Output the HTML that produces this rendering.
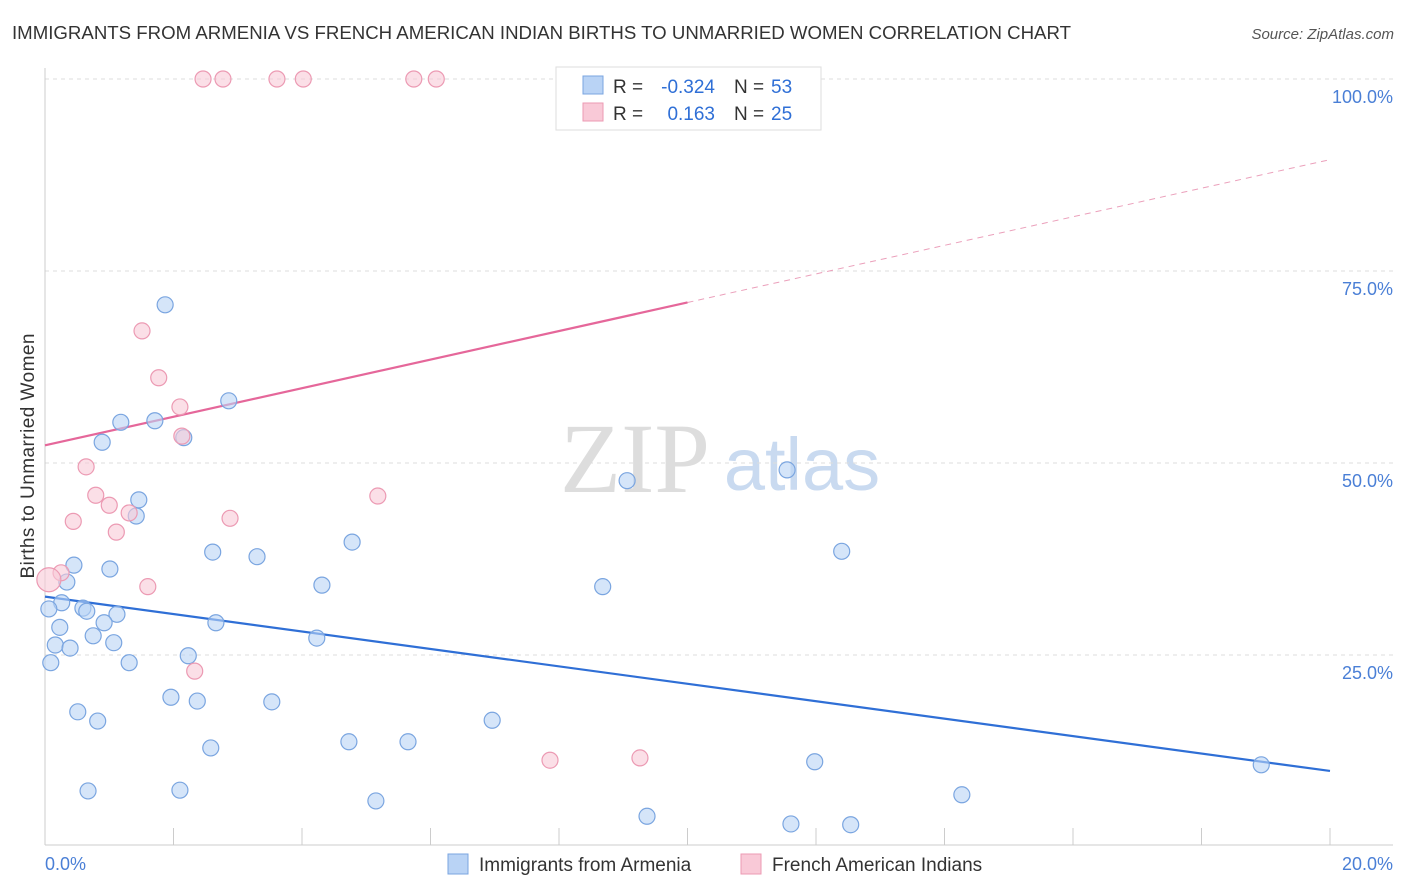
<!DOCTYPE html>
<html><head><meta charset="utf-8">
<style>
body{margin:0;background:#fff;font-family:"Liberation Sans",sans-serif;}
svg{display:block}
</style></head>
<body>
<svg id="chart" width="1406" height="892" xmlns="http://www.w3.org/2000/svg">
<text x="12" y="39" font-size="18" fill="#333" textLength="1059" lengthAdjust="spacingAndGlyphs">IMMIGRANTS FROM ARMENIA VS FRENCH AMERICAN INDIAN BIRTHS TO UNMARRIED WOMEN CORRELATION CHART</text>
<text x="1394" y="39" font-size="15" fill="#555" font-style="italic" text-anchor="end">Source: ZipAtlas.com</text>
<g>
<text x="635" y="492" font-size="100" fill="#ddd" font-family="Liberation Serif" text-anchor="middle">ZIP</text>
<text x="802" y="490" font-size="74" fill="#c9daf0" text-anchor="middle">atlas</text>
</g>
<g id="grid"></g>
<g id="axes"></g>
<g id="lines"></g>
<g id="points"></g>
<g font-size="19">
<rect x="556" y="67" width="265" height="63" fill="#fff" stroke="#ddd"/>
<rect x="583" y="76" width="20" height="18" fill="#b9d3f5" stroke="#7aa5e0"/>
<text x="613" y="93" fill="#333">R =</text>
<text x="715" y="93" fill="#2f6fd6" text-anchor="end">-0.324</text>
<text x="734" y="93" fill="#333">N =</text>
<text x="771" y="93" fill="#2f6fd6">53</text>
<rect x="583" y="103" width="20" height="18" fill="#f9c9d7" stroke="#ec9ab3"/>
<text x="613" y="120" fill="#333">R =</text>
<text x="715" y="120" fill="#2f6fd6" text-anchor="end">0.163</text>
<text x="734" y="120" fill="#333">N =</text>
<text x="771" y="120" fill="#2f6fd6">25</text>
</g>
<g>
<rect x="448" y="854" width="20" height="20" fill="#b9d3f5" stroke="#7aa5e0"/>
<text x="479" y="871" font-size="19" fill="#333">Immigrants from Armenia</text>
<rect x="741" y="854" width="20" height="20" fill="#f9c9d7" stroke="#ec9ab3"/>
<text x="772" y="871" font-size="19" fill="#333">French American Indians</text>
</g>
<text transform="translate(34,456) rotate(-90)" font-size="19" fill="#333" text-anchor="middle" textLength="245">Births to Unmarried Women</text>
</svg>
<script>
const yTicks=[25,50,75,100];
const yTickLabels=["25.0%","50.0%","75.0%","100.0%"];
const xTicks=[0,2,4,6,8,10,12,14,16,18,20];
const blueX=[1.87,2.86,1.18,1.71,0.89,2.16,1.46,1.42,9.06,11.55,2.61,3.30,4.78,12.40,0.45,1.01,0.34,4.31,8.68,0.26,0.59,0.65,1.12,0.06,0.92,2.66,0.23,0.75,4.23,1.07,0.16,0.39,2.23,0.09,1.31,1.96,2.37,3.53,0.51,0.82,6.96,2.58,4.73,5.65,11.98,18.93,0.67,2.10,5.15,14.27,9.37,11.61,12.54];
const blueY=[70.6,58.1,55.3,55.5,52.7,53.3,45.2,43.1,47.7,49.1,38.4,37.8,39.7,38.5,36.7,36.2,34.5,34.1,33.9,31.8,31.1,30.7,30.3,31.0,29.2,29.2,28.6,27.5,27.2,26.6,26.3,25.9,24.9,24.0,24.0,19.5,19.0,18.9,17.6,16.4,16.5,12.9,13.7,13.7,11.1,10.7,7.3,7.4,6.0,6.8,4.0,3.0,2.9];
const pinkX=[2.46,2.77,3.61,4.02,5.74,6.09,8.25,1.51,1.77,2.10,2.13,0.64,0.79,5.18,1.00,0.44,2.88,1.31,1.11,0.25,1.60,0.06,2.33,7.86,9.26];
const pinkY=[100,100,100,100,100,100,100,67.2,61.1,57.3,53.5,49.5,45.8,45.7,44.5,42.4,42.8,43.5,41.0,35.7,33.9,34.8,22.9,11.3,11.6];
const blueTrend=[32.6,9.9];
const pinkTrend=[52.3,89.5];
const pinkSolidEnd=10;

const NS="http://www.w3.org/2000/svg";
const X=v=>45+v/20*1285;
const Y=v=>847-v*7.68;
function mk(tag,attrs,parent){const e=document.createElementNS(NS,tag);for(const k in attrs)e.setAttribute(k,attrs[k]);document.getElementById(parent).appendChild(e);return e;}
yTicks.forEach((t,i)=>{
 const g=mk('line',{x1:45,x2:1393,y1:Y(t),y2:Y(t),stroke:'#ddd','stroke-dasharray':'4,4'},'grid');
 
 
 const l=mk('text',{x:1393,y:Y(t)+24,'font-size':18,fill:'#4a7fd6','text-anchor':'end'},'axes');
 l.textContent=yTickLabels[i];
 
 
});
let a=mk('line',{x1:45,x2:45,y1:68,y2:845,stroke:'#ccc'},'axes');


a=mk('line',{x1:45,x2:1393,y1:845,y2:845,stroke:'#ccc'},'axes');


xTicks.forEach(t=>{
 const k=mk('line',{x1:X(t),x2:X(t),y1:828,y2:845,stroke:'#ccc'},'axes');
 
 
});
let t0=mk('text',{x:45,y:870,'font-size':18,fill:'#4a7fd6'},'axes');t0.textContent='0.0%';


let t1=mk('text',{x:1393,y:870,'font-size':18,fill:'#4a7fd6','text-anchor':'end'},'axes');t1.textContent='20.0%';



blueX.forEach((x,i)=>{
 const c=mk('circle',{cx:X(x),cy:Y(blueY[i]),r:8,fill:'rgba(185,211,245,0.6)',stroke:'#7aa5e0','stroke-width':1.2},'points');
 
 
});
pinkX.forEach((x,i)=>{
 const c=mk('circle',{cx:X(x),cy:Y(pinkY[i]),r:(i==21?12:8),fill:'rgba(249,201,215,0.6)',stroke:'#ec9ab3','stroke-width':1.2},'points');
 
 
});
const pm=pinkTrend[0]+(pinkTrend[1]-pinkTrend[0])*pinkSolidEnd/20;
let ln=mk('line',{x1:X(0),y1:Y(blueTrend[0]),x2:X(20),y2:Y(blueTrend[1]),stroke:'#2f6fd6','stroke-width':2.2},'lines');


ln=mk('line',{x1:X(0),y1:Y(pinkTrend[0]),x2:X(pinkSolidEnd),y2:Y(pm),stroke:'#e5679a','stroke-width':2.2},'lines');


ln=mk('line',{x1:X(pinkSolidEnd),y1:Y(pm),x2:X(20),y2:Y(pinkTrend[1]),stroke:'#eba0bb','stroke-width':1,'stroke-dasharray':'6,5'},'lines');


</script>
</body></html>
